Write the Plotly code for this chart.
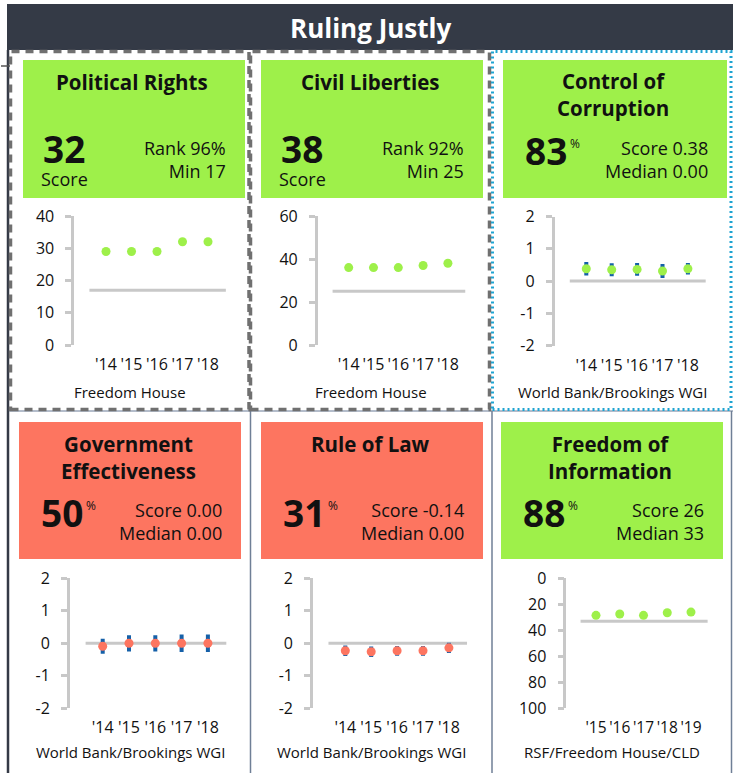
import plotly.graph_objects as go

W, H = 733, 773
FONT = "Open Sans"
GREEN = "#9ef04a"
RED = "#fd7560"
BAR_BLUE = "#1560a8"
GRAY_LINE = "#c8c8c8"
TXT = "#111111"

# ---------------- data ----------------
years_a = ["'14", "'15", "'16", "'17", "'18"]
years_b = ["'15", "'16", "'17", "'18", "'19"]

pr_values = [29, 29, 29, 32, 32]
pr_min = 17
cl_values = [36, 36, 36, 37, 38]
cl_min = 25
cc_values = [0.38, 0.35, 0.36, 0.31, 0.38]
cc_err = [0.21, 0.20, 0.20, 0.22, 0.18]
cc_median = 0.0
ge_values = [-0.09, 0.0, 0.0, 0.0, 0.0]
ge_err = [0.23, 0.25, 0.25, 0.27, 0.27]
ge_median = 0.0
rl_values = [-0.23, -0.26, -0.23, -0.23, -0.14]
rl_err = [0.16, 0.16, 0.15, 0.15, 0.16]
rl_median = 0.0
foi_values = [28.5, 27.5, 28.5, 26.5, 26]
foi_median = 33

pr_ticks = [0, 10, 20, 30, 40]
cl_ticks = [0, 20, 40, 60]
wgi_ticks = [-2, -1, 0, 1, 2]
foi_ticks = [0, 20, 40, 60, 80, 100]

titles = [["Political Rights"], ["Civil Liberties"], ["Control of", "Corruption"],
          ["Government", "Effectiveness"], ["Rule of Law"], ["Freedom of", "Information"]]
big_numbers = ["32", "38", "83", "50", "31", "88"]
right_lines = [["Rank 96%", "Min 17"], ["Rank 92%", "Min 25"], ["Score 0.38", "Median 0.00"],
               ["Score 0.00", "Median 0.00"], ["Score -0.14", "Median 0.00"], ["Score 26", "Median 33"]]
sources = ["Freedom House", "Freedom House", "World Bank/Brookings WGI",
           "World Bank/Brookings WGI", "World Bank/Brookings WGI", "RSF/Freedom House/CLD"]

series = [
    dict(x=years_a, y=pr_values, err=None, med=pr_min, rng=[0, 40], ticks=pr_ticks, color=GREEN),
    dict(x=years_a, y=cl_values, err=None, med=cl_min, rng=[0, 60], ticks=cl_ticks, color=GREEN),
    dict(x=years_a, y=cc_values, err=cc_err, med=cc_median, rng=[-2, 2], ticks=wgi_ticks, color=GREEN),
    dict(x=years_a, y=ge_values, err=ge_err, med=ge_median, rng=[-2, 2], ticks=wgi_ticks, color=RED),
    dict(x=years_a, y=rl_values, err=rl_err, med=rl_median, rng=[-2, 2], ticks=wgi_ticks, color=RED),
    dict(x=years_b, y=foi_values, err=None, med=foi_median, rng=[100, 0], ticks=foi_ticks, color=GREEN),
]
box_colors = [GREEN, GREEN, GREEN, RED, RED, GREEN]
score_style = ["score", "score", "pct", "pct", "pct", "pct"]

# ---------------- layout geometry (pixels) ----------------
def X(px):
    return px / W

def Y(py):
    return 1 - py / H

boxes = [(23, 60, 245, 198), (261, 60, 483, 198), (503, 60, 727, 198),
         (19, 422, 241, 559), (261, 422, 483, 559), (501, 422, 723, 559)]
first_pt = [106, 348.7, 586.3, 102.7, 345.3, 596]
spacing = [25.5, 24.8, 25.4, 26.3, 25.9, 23.75]
plot_y = [(216, 345), (216, 345), (216.5, 345.5), (578.3, 708.3), (578.3, 708.3), (578.3, 708.3)]
cell_center = [130, 371, 612, 130, 371, 612]
source_y = [392, 392, 392, 752, 752, 752]
XR = [-1.25, 5.0]

fig = go.Figure()
shapes = []
annotations = []
layout_axes = {}

for i, s in enumerate(series):
    n = i + 1
    xs = list(range(len(s["x"])))
    tr = go.Scatter(
        x=xs, y=s["y"], mode="markers",
        marker=dict(size=9, color=s["color"]),
        xaxis=f"x{n}", yaxis=f"y{n}", showlegend=False, hoverinfo="skip",
    )
    if s["err"] is not None:
        tr.error_y = dict(type="data", array=s["err"], visible=True,
                          color=BAR_BLUE, thickness=4, width=0)
    fig.add_trace(tr)

    left = first_pt[i] + XR[0] * spacing[i]
    right = first_pt[i] + XR[1] * spacing[i]
    yt, yb = plot_y[i]
    layout_axes[f"xaxis{n}"] = dict(
        domain=[X(left), X(right)], range=XR, anchor=f"y{n}", automargin=False,
        tickmode="array", tickvals=xs, ticktext=s["x"], tickangle=0,
        showgrid=False, zeroline=False, showline=False, ticks="",
        tickfont=dict(family=FONT, size=16 if spacing[i] > 24 else 15.5, color=TXT),
        ticklabelstandoff=8,
        fixedrange=True,
    )
    layout_axes[f"yaxis{n}"] = dict(
        domain=[Y(yb), Y(yt)], range=s["rng"], anchor=f"x{n}", automargin=False,
        tickmode="array", tickvals=s["ticks"], ticktext=[str(v) for v in s["ticks"]],
        showgrid=False, zeroline=False, showline=True, linecolor=GRAY_LINE, linewidth=2.5,
        ticks="outside", ticklen=6, tickwidth=2.5, tickcolor=GRAY_LINE,
        tickfont=dict(family=FONT, size=16, color=TXT), ticklabelstandoff=8,
        fixedrange=True,
    )
    shapes.append(dict(type="line", xref=f"x{n}", yref=f"y{n}",
                       x0=-0.65, x1=4.7, y0=s["med"], y1=s["med"],
                       line=dict(color=GRAY_LINE, width=3), layer="below"))

    x0, y0, x1, y1 = boxes[i]
    shapes.append(dict(type="rect", xref="paper", yref="paper",
                       x0=X(x0), x1=X(x1), y0=Y(y1), y1=Y(y0),
                       fillcolor=box_colors[i], line=dict(width=0), layer="below"))
    cx = (x0 + x1) / 2
    t = titles[i]
    ty = y0 + 22 if len(t) == 1 else y0 + 35
    annotations.append(dict(text="<br>".join(f"<b>{l}</b>" for l in t), x=X(cx - 2), y=Y(ty),
                            xref="paper", yref="paper",
                            showarrow=False, xanchor="center", yanchor="middle",
                            font=dict(family=FONT, size=20.5, color=TXT)))
    if score_style[i] == "score":
        bx = x0 + 41
        annotations.append(dict(text=f"<b>{big_numbers[i]}</b>", x=X(bx), y=Y(y0 + 88),
                                xref="paper", yref="paper", showarrow=False,
                                xanchor="center", yanchor="middle",
                                font=dict(family=FONT, size=37, color=TXT)))
        annotations.append(dict(text="Score", x=X(bx), y=Y(y0 + 119),
                                xref="paper", yref="paper", showarrow=False,
                                xanchor="center", yanchor="middle",
                                font=dict(family=FONT, size=18, color=TXT)))
    else:
        by = y0 + 90
        bx = x0 + 43
        annotations.append(dict(text=f"<b>{big_numbers[i]}</b>", x=X(bx), y=Y(by),
                                xref="paper", yref="paper", showarrow=False,
                                xanchor="center", yanchor="middle",
                                font=dict(family=FONT, size=37, color=TXT)))
        annotations.append(dict(text="%", x=X(bx + 22), y=Y(by - 7),
                                xref="paper", yref="paper", showarrow=False,
                                xanchor="left", yanchor="middle",
                                font=dict(family=FONT, size=12, color=TXT)))
    annotations.append(dict(text="<br>".join(right_lines[i]), x=X(x1 - 17), y=Y(y0 + 99.5),
                            xref="paper", yref="paper", showarrow=False,
                            xanchor="right", yanchor="middle", align="right",
                            font=dict(family=FONT, size=18, color=TXT)))
    annotations.append(dict(text=sources[i], x=X(cell_center[i]), y=Y(source_y[i]),
                            xref="paper", yref="paper", showarrow=False,
                            xanchor="center", yanchor="middle",
                            font=dict(family=FONT, size=15, color=TXT)))

# ---------------- frame ----------------
DARK = "#343a46"
DIV = "#6f7f96"
shapes.append(dict(type="rect", xref="paper", yref="paper", x0=X(7), x1=X(733), y0=Y(50), y1=Y(4),
                   fillcolor=DARK, line=dict(width=0), layer="below"))
annotations.append(dict(text="<b>Ruling Justly</b>", x=X(370), y=Y(28), xref="paper", yref="paper",
                        showarrow=False, xanchor="center", yanchor="middle",
                        font=dict(family=FONT, size=26, color="white")))
shapes.append(dict(type="line", xref="paper", yref="paper", x0=X(8), x1=X(8), y0=Y(50), y1=Y(773),
                   line=dict(color=DARK, width=2.5)))
shapes.append(dict(type="line", xref="paper", yref="paper", x0=X(1), x1=X(10), y0=Y(66), y1=Y(66),
                   line=dict(color="#555555", width=1.5)))
shapes.append(dict(type="line", xref="paper", yref="paper", x0=X(9), x1=X(733), y0=Y(411), y1=Y(411),
                   line=dict(color="#9aa6b8", width=1.5)))
for xx in (250.5, 492, 731.5):
    shapes.append(dict(type="line", xref="paper", yref="paper", x0=X(xx), x1=X(xx), y0=Y(411), y1=Y(773),
                       line=dict(color=DIV, width=1.5)))
for (a, b) in ((10.5, 249), (250.5, 489.5)):
    shapes.append(dict(type="rect", xref="paper", yref="paper", x0=X(a), x1=X(b), y0=Y(409.5), y1=Y(51.5),
                       line=dict(color="#707070", width=3.5, dash="8px,6px"), fillcolor="rgba(0,0,0,0)"))
shapes.append(dict(type="rect", xref="paper", yref="paper", x0=X(492.5), x1=X(731), y0=Y(409.5), y1=Y(51.5),
                   line=dict(color="#1ea4d2", width=3, dash="2px,3px"), fillcolor="rgba(0,0,0,0)"))

fig.update_layout(
    width=W, height=H, margin=dict(l=0, r=0, t=0, b=0, pad=0, autoexpand=False),
    paper_bgcolor="white", plot_bgcolor="rgba(0,0,0,0)",
    showlegend=False, shapes=shapes, annotations=annotations,
    **layout_axes,
)

post = (
    "document.documentElement.style.margin='0';document.documentElement.style.padding='0';"
    "document.documentElement.style.overflow='hidden';"
    "document.body.style.margin='0';document.body.style.padding='0';"
    "document.body.style.overflow='hidden';"
    "var gd=document.getElementById('{plot_id}');"
    "gd.style.position='fixed';gd.style.left='0px';gd.style.top='0px';"
)
fig.write_html("out.html", config={"displayModeBar": False}, post_script=post)
